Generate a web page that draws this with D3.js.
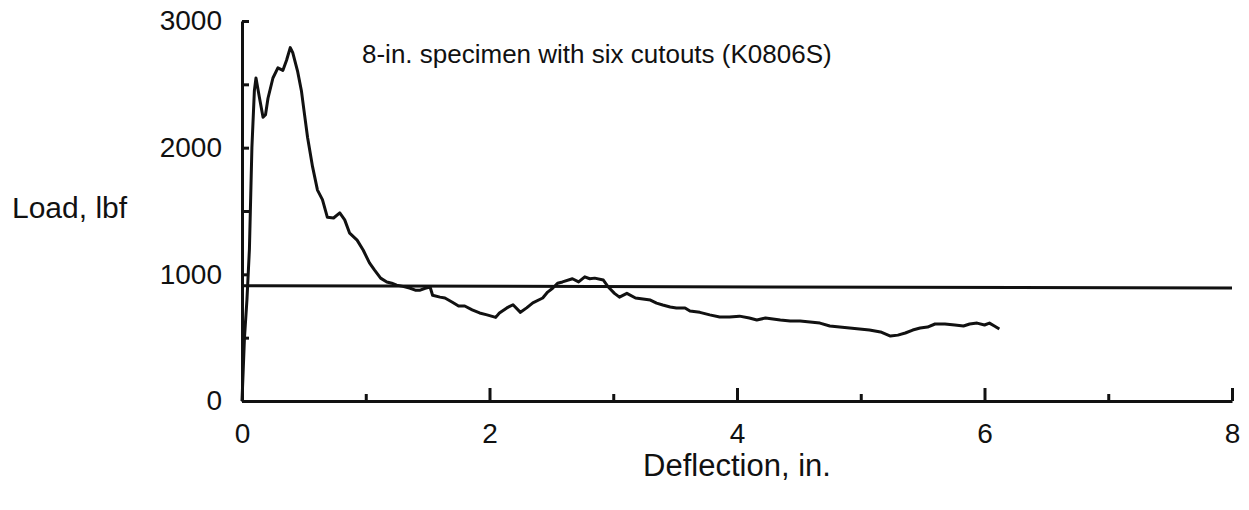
<!DOCTYPE html>
<html>
<head>
<meta charset="utf-8">
<script src="https://cdn.jsdelivr.net/npm/d3@7"></script>
<style>
  body { margin: 0; background: #fff; }
  svg text { font-family: "Liberation Sans", Arial, Helvetica, sans-serif; fill: #111; }
</style>
</head>
<body>
<div id="chart-area"></div>
<script>
// load-deflection curve
const deflection = [0, 0.01, 0.02, 0.04, 0.06, 0.08, 0.1, 0.113, 0.14, 0.17, 0.19, 0.21, 0.25, 0.29, 0.33, 0.36, 0.39, 0.41, 0.45,
  0.48, 0.5, 0.53, 0.57, 0.61, 0.65, 0.69, 0.74, 0.79, 0.83, 0.87, 0.93, 0.98, 1.03, 1.07, 1.12, 1.17, 1.21, 1.25,
  1.3, 1.36, 1.4, 1.44, 1.48, 1.52, 1.54, 1.6, 1.64, 1.7, 1.75, 1.8, 1.86, 1.92, 1.98, 2.05, 2.08, 2.14, 2.19, 2.25,
  2.3, 2.35, 2.43, 2.47, 2.51, 2.55, 2.59, 2.67, 2.72, 2.77, 2.81, 2.85, 2.92, 2.96, 3.01, 3.05, 3.11, 3.18, 3.24,
  3.3, 3.35, 3.4, 3.46, 3.51, 3.58, 3.62, 3.7, 3.78, 3.86, 3.94, 4.02, 4.1, 4.16, 4.23, 4.29, 4.35, 4.43, 4.51,
  4.59, 4.67, 4.75, 4.83, 4.91, 4.99, 5.07, 5.16, 5.24, 5.3, 5.36, 5.42, 5.48, 5.54, 5.6, 5.68, 5.76, 5.83, 5.88,
  5.94, 6.0, 6.04, 6.08, 6.12]
const load = [0, 250, 500, 800, 1200, 2000, 2450, 2550, 2400, 2240, 2260, 2390, 2550, 2630, 2610, 2690, 2790, 2750, 2600,
  2450, 2300, 2080, 1850, 1665, 1590, 1450, 1445, 1485, 1430, 1325, 1270, 1190, 1090, 1035, 970, 940, 930, 915,
  905, 890, 875, 875, 890, 900, 835, 820, 813, 780, 750, 750, 720, 695, 680, 660, 695, 735, 760, 700,
  735, 775, 813, 860, 890, 930, 940, 965, 940, 980, 965, 970, 955, 900, 850, 820, 850, 813, 805,
  797, 773, 758, 742, 735, 735, 710, 700, 680, 663, 663, 670, 655, 640, 655, 648, 640, 632, 632,
  624, 615, 592, 584, 576, 568, 560, 545, 513, 520, 537, 560, 576, 584, 608, 608, 600, 592, 608,
  615, 600, 615, 592, 568]
// near-horizontal reference line
const refX = [0, 8]
const refLoad = [910, 892]

const xTicksMajor = [0, 2, 4, 6, 8]
const xTicksMinor = [1, 3, 5, 7]
const yTicks = [0, 500, 1000, 1500, 2000, 2500, 3000]

const MARGIN = { LEFT: 242, RIGHT: 17, TOP: 21, BOTTOM: 109 }
const WIDTH = 1249 - MARGIN.LEFT - MARGIN.RIGHT
const HEIGHT = 510 - MARGIN.TOP - MARGIN.BOTTOM

const svg = d3.select("#chart-area").append("svg")
  .attr("width", 1249)
  .attr("height", 510)

const g = svg.append("g")
  .attr("transform", `translate(${MARGIN.LEFT}, ${MARGIN.TOP})`)

const x = d3.scaleLinear().domain([0, 8]).range([0, WIDTH])
const y = d3.scaleLinear().domain([0, 3000]).range([HEIGHT, 0])

// axes, ticks pointing inward
const xMinor = g.append("g")
  .attr("transform", `translate(0, ${HEIGHT})`)
  .call(d3.axisBottom(x).tickValues(xTicksMinor).tickSize(-7).tickFormat(""))
const xMajor = g.append("g")
  .attr("transform", `translate(0, ${HEIGHT})`)
  .call(d3.axisBottom(x).tickValues(xTicksMajor).tickSize(-13).tickPadding(22).tickSizeOuter(0))
const yAxis = g.append("g")
  .call(d3.axisLeft(y).tickValues(yTicks).tickSize(-7).tickPadding(20).tickSizeOuter(0)
    .tickFormat(d => d % 1000 === 0 ? d : ""))

g.selectAll(".domain, .tick line")
  .attr("stroke", "#111")
  .attr("stroke-width", 3)
g.selectAll(".tick text")
  .attr("font-size", 28)
  .attr("font-family", "Liberation Sans, Arial, sans-serif")
  .attr("fill", "#111")
xMinor.select(".domain").remove()

const line = d3.line()
  .x(d => x(d[0]))
  .y(d => y(d[1]))

g.append("path")
  .attr("fill", "none")
  .attr("stroke", "#111")
  .attr("stroke-width", 3)
  .attr("stroke-linejoin", "round")
  .attr("d", line(refX.map((d, i) => [d, refLoad[i]])))

g.append("path")
  .attr("fill", "none")
  .attr("stroke", "#111")
  .attr("stroke-width", 3)
  .attr("stroke-linejoin", "round")
  .attr("d", line(deflection.map((d, i) => [d, load[i]])))

// labels
svg.append("text")
  .attr("x", 362)
  .attr("y", 63)
  .attr("font-size", 26)
  .text("8-in. specimen with six cutouts (K0806S)")

svg.append("text")
  .attr("x", 12)
  .attr("y", 218)
  .attr("font-size", 30)
  .text("Load, lbf")

svg.append("text")
  .attr("x", MARGIN.LEFT + WIDTH / 2)
  .attr("y", 476)
  .attr("text-anchor", "middle")
  .attr("font-size", 31)
  .text("Deflection, in.")
</script>
</body>
</html>
